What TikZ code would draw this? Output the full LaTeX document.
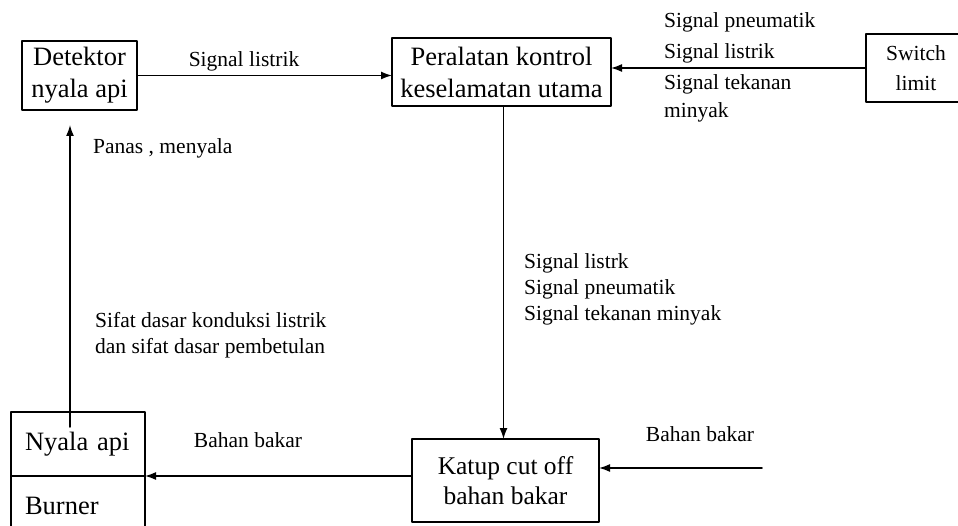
\documentclass[tikz,border=0pt]{standalone}
\usepackage{fontspec}
\setmainfont{Liberation Serif}
\usetikzlibrary{arrows.meta,positioning}

\begin{document}
\begin{tikzpicture}[>={Latex[length=11pt,width=8pt]}, x=1pt, y=-1pt, line cap=round, line join=round,
  kotak/.style={draw, line width=1.4pt, inner sep=0pt, outer sep=0pt, align=center, font=\fontsize{26.5}{32}\selectfont},
  ket/.style={inner sep=0pt, align=left, font=\fontsize{21.5}{26}\selectfont},
  panah/.style={->, line width=1.5pt}]

\useasboundingbox (0,0) rectangle (958,526);

% Kotak
\node[kotak, minimum width=115, minimum height=69] (det) at (79.5,75.5) {Detektor\\nyala api};
\node[kotak, minimum width=219, minimum height=68] (ctl) at (501.5,72) {Peralatan kontrol\\keselamatan utama};
\node[kotak, minimum width=100, minimum height=68, font=\fontsize{21.5}{30}\selectfont] (sw) at (916,68) {Switch\\limit};
\node[kotak, minimum width=187, minimum height=83, font=\fontsize{25.5}{30}\selectfont] (kat) at (505.5,480.5) {Katup cut off\\bahan bakar};
\node[kotak, minimum width=134, minimum height=64, text width=106, align=left] (api) at (78,444) {Nyala api};
\node[kotak, minimum width=134, minimum height=60, text width=106, align=left, below=0pt of api] (brn) {Burner};
\coordinate (bb) at (762,468);

% Panah
\draw[panah] (det.east) -- (det.east -| ctl.west);
\draw[panah] (sw.west) -- (sw.west -| ctl.east);
\draw[panah] ([xshift=2pt]ctl.south) -- ([xshift=2pt]ctl.south |- kat.north);
\draw[panah] (bb) -- (bb -| kat.east);
\draw[panah] (kat.west |- api.south east) -- (api.south east);
\draw[panah] ([xshift=-8pt,yshift=-15pt]api.north) -- ([xshift=-8pt,yshift=-15pt]api.north |- det.south);

% Keterangan
\node[ket] (l1) at (244,61) {Signal listrik};
\node[ket, anchor=west] (l2) at (664,22) {Signal pneumatik};
\node[ket, anchor=west] (l3) at (664,53) {Signal listrik};
\node[ket, anchor=west, font=\fontsize{21.5}{28}\selectfont] (l4) at (664,98) {Signal tekanan\\minyak};
\node[ket, anchor=west] (l5) at (93,148) {Panas , menyala};
\node[ket, anchor=west] (l6) at (95,335) {Sifat dasar konduksi listrik\\dan sifat dasar pembetulan};
\node[ket, anchor=west] (l7) at (524,289) {Signal listrk\\Signal pneumatik\\Signal tekanan minyak};
\node[ket] (l8) at (248,440) {Bahan bakar};
\node[ket] (l9) at (700,434) {Bahan bakar};

\end{tikzpicture}
\end{document}
